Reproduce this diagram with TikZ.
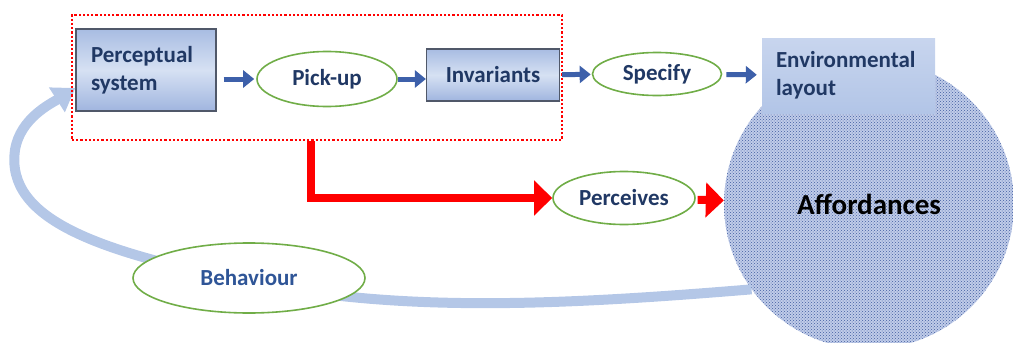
\documentclass[tikz,border=0pt]{standalone}
\usepackage{fontspec}
\setmainfont{Carlito}
\usetikzlibrary{arrows.meta,patterns,shapes.geometric}
\definecolor{txtblue}{RGB}{32,56,100}
\definecolor{behblue}{RGB}{47,85,151}
\definecolor{ovgreen}{RGB}{112,173,71}
\definecolor{arrblue}{RGB}{61,96,170}
\definecolor{boxline}{RGB}{80,88,105}
\definecolor{boxtop}{RGB}{168,188,226}
\definecolor{boxmid}{RGB}{214,225,243}
\definecolor{boxbot}{RGB}{160,181,223}
\definecolor{envtop}{RGB}{200,213,238}
\definecolor{envbot}{RGB}{178,197,231}
\definecolor{fbblue}{RGB}{180,199,231}
\definecolor{affbg}{RGB}{192,204,233}
\definecolor{affdot}{RGB}{66,94,160}
\definecolor{redc}{RGB}{255,0,0}
\begin{document}
\begin{tikzpicture}[x=1pt,y=-1pt,
  lbl/.style={font=\bfseries\fontsize{23}{28}\selectfont, text=txtblue},
  box/.style={lbl, draw=boxline, line width=1.2pt, top color=boxtop, bottom color=boxbot, middle color=boxmid, inner sep=0pt},
  envbox/.style={lbl, top color=envtop, bottom color=envbot, inner sep=0pt},
  oval/.style={lbl, ellipse, draw=ovgreen, line width=1.6pt, fill=white, inner sep=0pt},
  barrow/.style={draw=arrblue, line width=5pt, -{Triangle[length=11pt,width=17pt]}},
  redarr/.style={draw=redc, line width=8pt, -{Triangle[length=18pt,width=34pt]}},
  fb/.style={draw=fbblue, line width=10pt, -{Triangle[length=22pt,width=28pt]}},
  affc/.style={circle, minimum size=290pt, inner sep=0pt, preaction={fill=affbg}, pattern=crosshatch dots, pattern color=affdot, font=\bfseries\fontsize{29}{34}\selectfont, text=black}
]
\useasboundingbox (0,0) rectangle (1013,343);
\clip (0,0) rectangle (1013,343);

% Affordances circle
\node[affc] (aff) at (869,204) {Affordances};

% nodes
\node[box, minimum width=140pt, minimum height=82pt, text width=110pt, inner xsep=15pt, align=left] (ps) at (146,70) {Perceptual\\system};
\node[oval, minimum width=140pt, minimum height=55pt] (pick) at (327,79) {Pick-up};
\node[box, minimum width=133pt, minimum height=52pt] (inv) at (493,75) {Invariants};
\node[oval, minimum width=129pt, minimum height=43pt] (spec) at (657,74) {Specify};
\node[envbox, minimum width=173pt, minimum height=75pt, text width=145pt, inner xsep=14pt, align=left] (env) at (848.5,75.5) {Environmental\\layout};
\node[oval, minimum width=142pt, minimum height=53pt] (perc) at (624,198) {Perceives};

% feedback curve (behind Behaviour)
\draw[fb] (aff.216) .. controls (550,306) and (400,312) .. (249,282)
  .. controls (100,252) and (5,220) .. (15,150)
  .. controls (20,118) and (52,103) .. ([yshift=-18pt]ps.west);
\node[oval, minimum width=232pt, minimum height=70pt, text=behblue] (beh) at (249,278) {Behaviour};

% group box
\node[draw=redc, line width=2.4pt, dash pattern=on 2.2pt off 2pt, minimum width=490pt, minimum height=125pt, inner sep=0pt] (grp) at (317,77.5) {};

% blue arrows
\draw[barrow, shorten <=7pt, shorten >=2pt] (ps.east |- pick.center) -- (pick.west);
\draw[barrow] (pick.east) -- (pick.east -| inv.west);
\draw[barrow, shorten <=2pt, shorten >=1pt] (inv) -- (spec);
\draw[barrow, shorten <=4pt, shorten >=5pt] (spec) -- (env);

% red arrows
\draw[redarr] ([xshift=-6pt]grp.south) |- (perc.west);
\draw[redarr, shorten <=2pt] (perc) -- (aff);
\end{tikzpicture}
\end{document}
